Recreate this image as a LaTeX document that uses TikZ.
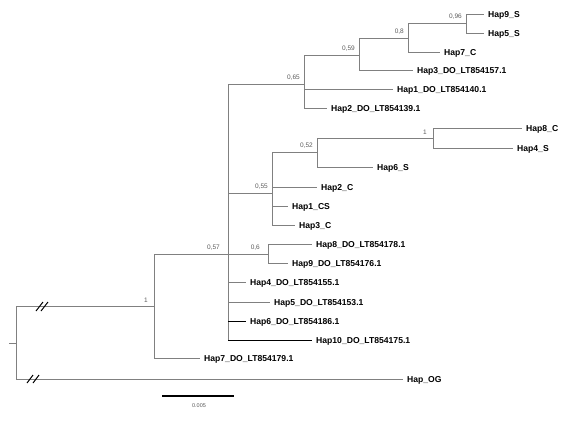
\documentclass[tikz,border=0pt]{standalone}
\usepackage{fontspec}
\setmainfont{Liberation Sans}
\definecolor{brgray}{RGB}{128,128,128}
\definecolor{supgray}{RGB}{90,90,90}
\begin{document}
\begin{tikzpicture}[x=1pt,y=-1pt,
  br/.style={draw=brgray, line width=0.9pt},
  brblack/.style={draw=black, line width=0.9pt},
  leaf/.style={anchor=west, inner xsep=4pt, inner ysep=0pt, text height=6.5pt, text depth=0.3pt,
    font=\fontsize{8.6}{9}\selectfont\bfseries},
  suplab/.style={anchor=south east, inner sep=0pt, font=\fontsize{6.5}{7}\selectfont, text=supgray},
  breakmark/.style={draw=black, line width=1pt}]
\useasboundingbox (0,0) rectangle (580,420);

% internal nodes
\coordinate (stub) at (9,343);
\coordinate (root) at (16,343);
\coordinate (n1) at (154,306);
\coordinate (n057) at (228,254);
\coordinate (n065) at (304,84);
\coordinate (n059) at (359,55);
\coordinate (n08) at (408,38);
\coordinate (n096) at (466,23);
\coordinate (n055) at (272,193);
\coordinate (n052) at (317,152);
\coordinate (n1b) at (433,138);
\coordinate (n06) at (268,254);

% leaves
\node[leaf] (hap9s) at (484,14) {Hap9\_S};
\node[leaf] (hap5s) at (484,33) {Hap5\_S};
\node[leaf] (hap7c) at (440,52) {Hap7\_C};
\node[leaf] (hap3do) at (413,70) {Hap3\_DO\_LT854157.1};
\node[leaf] (hap1do) at (393,89) {Hap1\_DO\_LT854140.1};
\node[leaf] (hap2do) at (327,108) {Hap2\_DO\_LT854139.1};
\node[leaf] (hap8c) at (522,128) {Hap8\_C};
\node[leaf] (hap4s) at (513,148) {Hap4\_S};
\node[leaf] (hap6s) at (373,167) {Hap6\_S};
\node[leaf] (hap2c) at (317,187) {Hap2\_C};
\node[leaf] (hap1cs) at (288,206) {Hap1\_CS};
\node[leaf] (hap3c) at (295,225) {Hap3\_C};
\node[leaf] (hap8do) at (312,244) {Hap8\_DO\_LT854178.1};
\node[leaf] (hap9do) at (288,263) {Hap9\_DO\_LT854176.1};
\node[leaf] (hap4do) at (246,282) {Hap4\_DO\_LT854155.1};
\node[leaf] (hap5do) at (270,302) {Hap5\_DO\_LT854153.1};
\node[leaf] (hap6do) at (246,321) {Hap6\_DO\_LT854186.1};
\node[leaf] (hap10do) at (312,340) {Hap10\_DO\_LT854175.1};
\node[leaf] (hap7do) at (200,358) {Hap7\_DO\_LT854179.1};
\node[leaf] (hapog) at (403,379) {Hap\_OG};

% branches
\draw[br] (stub) -- (root);
\draw[br] (root) |- (n1);
\draw[br] (root) |- (hapog.west);
\draw[br] (n1) |- (n057);
\draw[br] (n1) |- (hap7do.west);
\draw[br] (n057) |- (n065);
\draw[br] (n057) |- (n055);
\draw[br] (n057) -- (n06);
\draw[br] (n057) |- (hap4do.west);
\draw[br] (n057) |- (hap5do.west);
\draw[br] (n057) |- (hap6do.west);
\draw[br] (n057) |- (hap10do.west);
\draw[brblack] (n057 |- hap6do.west) -- (hap6do.west);
\draw[brblack] (n057 |- hap10do.west) -- (hap10do.west);
\draw[br] (n065) |- (n059);
\draw[br] (n065) |- (hap1do.west);
\draw[br] (n065) |- (hap2do.west);
\draw[br] (n059) |- (n08);
\draw[br] (n059) |- (hap3do.west);
\draw[br] (n08) |- (n096);
\draw[br] (n08) |- (hap7c.west);
\draw[br] (n096) |- (hap9s.west);
\draw[br] (n096) |- (hap5s.west);
\draw[br] (n055) |- (n052);
\draw[br] (n055) |- (hap2c.west);
\draw[br] (n055) |- (hap1cs.west);
\draw[br] (n055) |- (hap3c.west);
\draw[br] (n052) |- (n1b);
\draw[br] (n052) |- (hap6s.west);
\draw[br] (n1b) |- (hap8c.west);
\draw[br] (n1b) |- (hap4s.west);
\draw[br] (n06) |- (hap8do.west);
\draw[br] (n06) |- (hap9do.west);

% support values
\node[suplab] (s096) at ([shift={(-4,-3)}]n096) {0,96};
\node[suplab] (s08) at ([shift={(-4,-3)}]n08) {0,8};
\node[suplab] (s059) at ([shift={(-4,-3)}]n059) {0,59};
\node[suplab] (s065) at ([shift={(-4,-3)}]n065) {0,65};
\node[suplab] (s1b) at ([shift={(-6,-3)}]n1b) {1};
\node[suplab] (s052) at ([shift={(-4,-3)}]n052) {0,52};
\node[suplab] (s055) at ([shift={(-4,-3)}]n055) {0,55};
\node[suplab] (s06) at ([shift={(-8,-3)}]n06) {0,6};
\node[suplab] (s057) at ([shift={(-8,-3)}]n057) {0,57};
\node[suplab] (s1) at ([shift={(-6,-3)}]n1) {1};

% break marks
\draw[breakmark] (36,311) -- (43,302);
\draw[breakmark] (41,311) -- (48,302);
\draw[breakmark] (27,383) -- (33,375);
\draw[breakmark] (33,383) -- (39,375);

% scale bar
\coordinate (sbl) at (162,396);
\coordinate (sbr) at (234,396);
\draw[draw=black, line width=2pt] (sbl) -- (sbr);
\node[inner sep=0pt, font=\fontsize{5.5}{6}\selectfont, text=supgray] (sbtext) at (199,406) {0.005};
\end{tikzpicture}
\end{document}
